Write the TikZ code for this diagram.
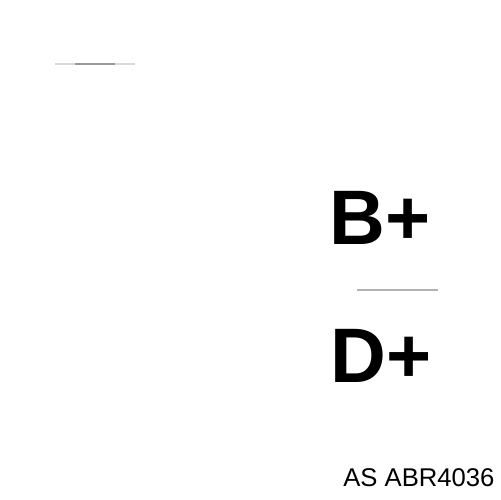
\documentclass[tikz,border=0pt]{standalone}
\usepackage{fontspec}
\setmainfont{Liberation Sans}
\usetikzlibrary{positioning}

\begin{document}
\begin{tikzpicture}[
  x=0.02cm, y=0.02cm,
  pin/.style   = {inner sep=0pt, anchor=base west, font=\fontsize{44}{48}\selectfont\bfseries},
  code/.style  = {inner sep=0pt, anchor=base west, font=\fontsize{14.6}{17}\selectfont},
  rule/.style  = {line width=0.6pt, draw=black!30}
]
\useasboundingbox[fill=white] (0,0) rectangle (500,500);

% Terminals
\node[pin]  (bplus) at (329,255) {B+};
\node[pin]  (dplus) at (330,117) {D+};

% Part number
\node[code] (part)  at (343,13)  {AS ABR4036};

% Separator lines
\coordinate (topl) at (55,436);
\coordinate (topr) at (135,436);
\coordinate (topml) at (75,436);
\coordinate (topmr) at (115,436);
\coordinate (midl) at (357,210);
\coordinate (midr) at (438,210);
\draw[rule, draw=black!15] (topl) -- (topr);
\draw[rule, draw=black!40] (topml) -- (topmr);
\draw[rule] (midl) -- (midr);

\end{tikzpicture}
\end{document}
